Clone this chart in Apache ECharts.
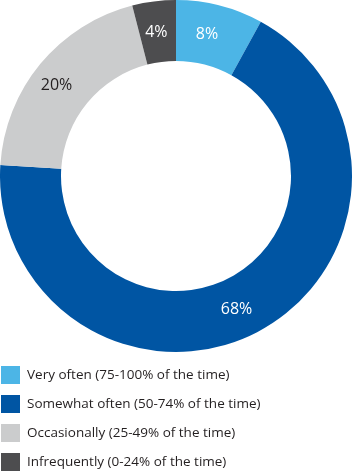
<!DOCTYPE html>
<html><head><meta charset="utf-8">
<script src="https://cdn.jsdelivr.net/npm/echarts@6/dist/echarts.min.js"></script>
<style>html,body{margin:0;padding:0;background:#fff}#c{width:352px;height:472px}</style>
</head><body><div id="c"></div>
<script>
const categories = ["Very often (75-100% of the time)","Somewhat often (50-74% of the time)","Occasionally (25-49% of the time)","Infrequently (0-24% of the time)"];
const values = [8, 68, 20, 4];
const colors = ["#4cb5e6","#0055a3","#cbcccd","#4d4d4f"];
const labelColors = ["#ffffff","#ffffff","#231f20","#ffffff"];
const labelOffsets = [[-6,2],[-11,3],[-5,4],[-1,4]];
const chart = echarts.init(document.getElementById('c'));
chart.setOption({
  animation:false,
  legend:{orient:'vertical',left:1,top:366,height:110,padding:0,itemWidth:19,itemHeight:18,itemGap:11,icon:'rect',
    textStyle:{fontFamily:'Open Sans',fontSize:13.5,color:'#231f20',padding:[0,0,0,2]},data:categories},
  series:[{type:'pie',center:[176,176],radius:[115,176],startAngle:90,clockwise:true,
    label:{position:'inside',formatter:'{c}%',fontFamily:'Open Sans',fontSize:16},
    labelLine:{show:false},emphasis:{disabled:true},
    data:categories.map((n,i)=>({name:n,value:values[i],itemStyle:{color:colors[i]},label:{color:labelColors[i],offset:labelOffsets[i]}}))}]
});
</script></body></html>
